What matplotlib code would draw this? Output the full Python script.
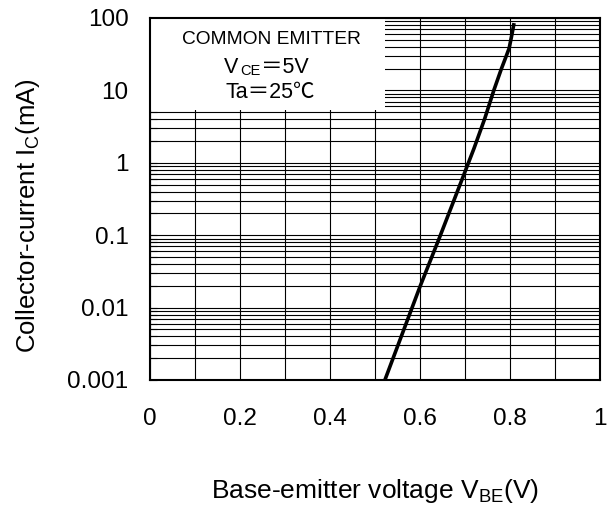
import matplotlib
matplotlib.use("Agg")
import matplotlib.pyplot as plt
from matplotlib.ticker import FixedLocator, FixedFormatter, LogLocator, NullFormatter
from matplotlib.patches import Rectangle

plt.rcParams['font.family'] = ['Liberation Sans', 'Noto Sans CJK JP', 'DejaVu Sans']
plt.rcParams['mathtext.fontset'] = 'custom'
plt.rcParams['mathtext.rm'] = 'Liberation Sans'
plt.rcParams['mathtext.it'] = 'Liberation Sans'

# Data
vbe = [0.522, 0.600, 0.644, 0.701, 0.720, 0.744, 0.764, 0.781, 0.790, 0.798, 0.804, 0.809]
ic_ma = [0.001, 0.0195, 0.095, 0.78, 1.58, 4.1, 10.0, 20.0, 28.0, 38.0, 58.0, 85.0]

x_ticks = [0, 0.2, 0.4, 0.6, 0.8, 1.0]
x_tick_labels = ["0", "0.2", "0.4", "0.6", "0.8", "1"]
y_ticks = [0.001, 0.01, 0.1, 1, 10, 100]
y_tick_labels = ["0.001", "0.01", "0.1", "1", "10", "100"]

W, H = 611, 511
fig = plt.figure(figsize=(W / 100, H / 100), dpi=100)
ax = fig.add_axes([150 / W, 1 - 380 / H, 450 / W, 362 / H])

ax.set_yscale('log')
ax.set_xlim(0, 1)
ax.set_ylim(0.001, 100)

ax.xaxis.set_major_locator(FixedLocator(x_ticks))
ax.xaxis.set_major_formatter(FixedFormatter(x_tick_labels))
ax.xaxis.set_minor_locator(FixedLocator([0.1, 0.3, 0.5, 0.7, 0.9]))
ax.yaxis.set_major_locator(FixedLocator(y_ticks))
ax.yaxis.set_major_formatter(FixedFormatter(y_tick_labels))
ax.yaxis.set_minor_locator(LogLocator(base=10, subs=range(2, 10), numticks=20))
ax.yaxis.set_minor_formatter(NullFormatter())

ax.grid(True, which='both', color='black', linewidth=0.8)
ax.set_axisbelow(True)
ax.tick_params(axis='x', which='both', length=0, labelsize=17.5, pad=20)
ax.tick_params(axis='y', which='both', direction='in', length=5, width=0.8,
               labelsize=17.5, pad=15.5)

for s in ax.spines.values():
    s.set_linewidth(1.5)
    s.set_color('black')

# White legend box covering the grid
ax.add_patch(Rectangle((0, 0.746), 0.522, 0.26, transform=ax.transAxes,
                       facecolor='white', edgecolor='none', zorder=1.5))

ax.plot(vbe, ic_ma, color='black', linewidth=2.6, zorder=3,
        solid_joinstyle='round', solid_capstyle='butt')

def px(x, y):
    return x / W, 1 - y / H

fs = 15.5
fig.text(*px(271, 40), "COMMON EMITTER", ha='center', va='center', fontsize=13.8, zorder=4)
fig.text(*px(224, 67), "V", ha='left', va='center', fontsize=fs, zorder=4)
fig.text(*px(240, 71), "CE", ha='left', va='center', fontsize=10.5, zorder=4)
fig.text(*px(261, 67), "＝5V", ha='left', va='center', fontsize=fs, zorder=4)
fig.text(*px(270, 93), "Ta＝25℃", ha='center', va='center', fontsize=fs, zorder=4)

ax.set_xlabel("Base-emitter voltage V$_{\\mathrm{BE}}$(V)", fontsize=19, labelpad=34)
ax.set_ylabel("Collector-current I$_{\\mathrm{C}}$(mA)", fontsize=18.5)
ax.yaxis.set_label_coords(-0.24, 0.453)

fig.savefig("out.png", dpi=100)
